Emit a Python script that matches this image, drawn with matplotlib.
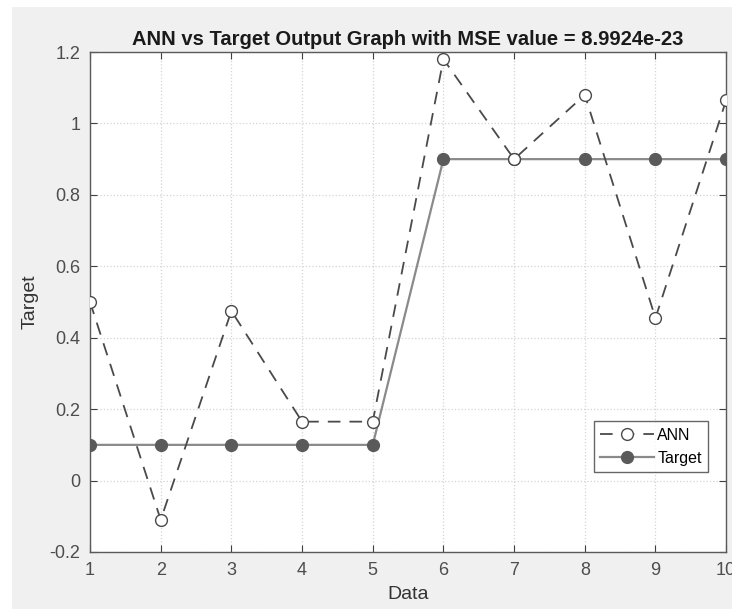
import matplotlib
matplotlib.use("Agg")
import matplotlib.pyplot as plt
from matplotlib.patches import Rectangle

plt.rcParams['font.family'] = ['Liberation Sans', 'DejaVu Sans']

data_idx = [1, 2, 3, 4, 5, 6, 7, 8, 9, 10]
ann_out = [0.50, -0.11, 0.475, 0.165, 0.165, 1.18, 0.90, 1.08, 0.455, 1.065]
target_out = [0.1, 0.1, 0.1, 0.1, 0.1, 0.9, 0.9, 0.9, 0.9, 0.9]
yticks = [-0.2, 0, 0.2, 0.4, 0.6, 0.8, 1, 1.2]
ytick_labels = ['-0.2', '0', '0.2', '0.4', '0.6', '0.8', '1', '1.2']

fig = plt.figure(figsize=(7.32, 6.09), dpi=100, facecolor='#f0f0f0')
# white strip left and top of the screenshot
fig.patches.append(Rectangle((0, 0), 12 / 732, 1, transform=fig.transFigure,
                             facecolor='white', edgecolor='none', zorder=0))
fig.patches.append(Rectangle((0, 1 - 7 / 609), 1, 7 / 609, transform=fig.transFigure,
                             facecolor='white', edgecolor='none', zorder=0))

ax = fig.add_axes([0.123, 0.0936, 0.869, 0.821])
ax.plot(data_idx, ann_out, linestyle=(0, (7, 5)), color='#4a4a4a', lw=1.3,
        marker='o', markersize=8.5, markerfacecolor='white',
        markeredgecolor='#4a4a4a', markeredgewidth=1.0, label='ANN', zorder=3)
ax.plot(data_idx, target_out, linestyle='-', color='#8a8a8a', lw=1.6,
        marker='o', markersize=8.5, markerfacecolor='#5a5a5a',
        markeredgecolor='#5a5a5a', label='Target', zorder=2)

ax.set_xlim(1, 10)
ax.set_ylim(-0.2, 1.2)
ax.set_xticks(data_idx)
ax.set_yticks(yticks)
ax.set_yticklabels(ytick_labels)
ax.grid(True, color='#d4d4d4', linestyle=':', linewidth=0.9)
ax.tick_params(direction='in', top=True, right=True, length=5,
               labelsize=13, colors='#404040', labelcolor='#4d4d4d', pad=7)
for s in ax.spines.values():
    s.set_color('#5a5a5a')
    s.set_linewidth(1.0)

ax.set_title('ANN vs Target Output Graph with MSE value = 8.9924e-23',
             fontsize=14.5, fontweight='bold', color='#1a1a1a', pad=5)
ax.set_xlabel('Data', fontsize=14, color='#333333', labelpad=5)
ax.set_ylabel('Target', fontsize=14, color='#333333', labelpad=8)

leg = ax.legend(loc='lower right', bbox_to_anchor=(0.972, 0.16), fontsize=11.5,
                frameon=True, fancybox=False, edgecolor='#404040',
                handlelength=3.4, handletextpad=0.2, borderpad=0.4,
                labelspacing=0.5, borderaxespad=0)
leg.get_frame().set_linewidth(1.0)

fig.savefig('out.png', dpi=100, facecolor=fig.get_facecolor())
